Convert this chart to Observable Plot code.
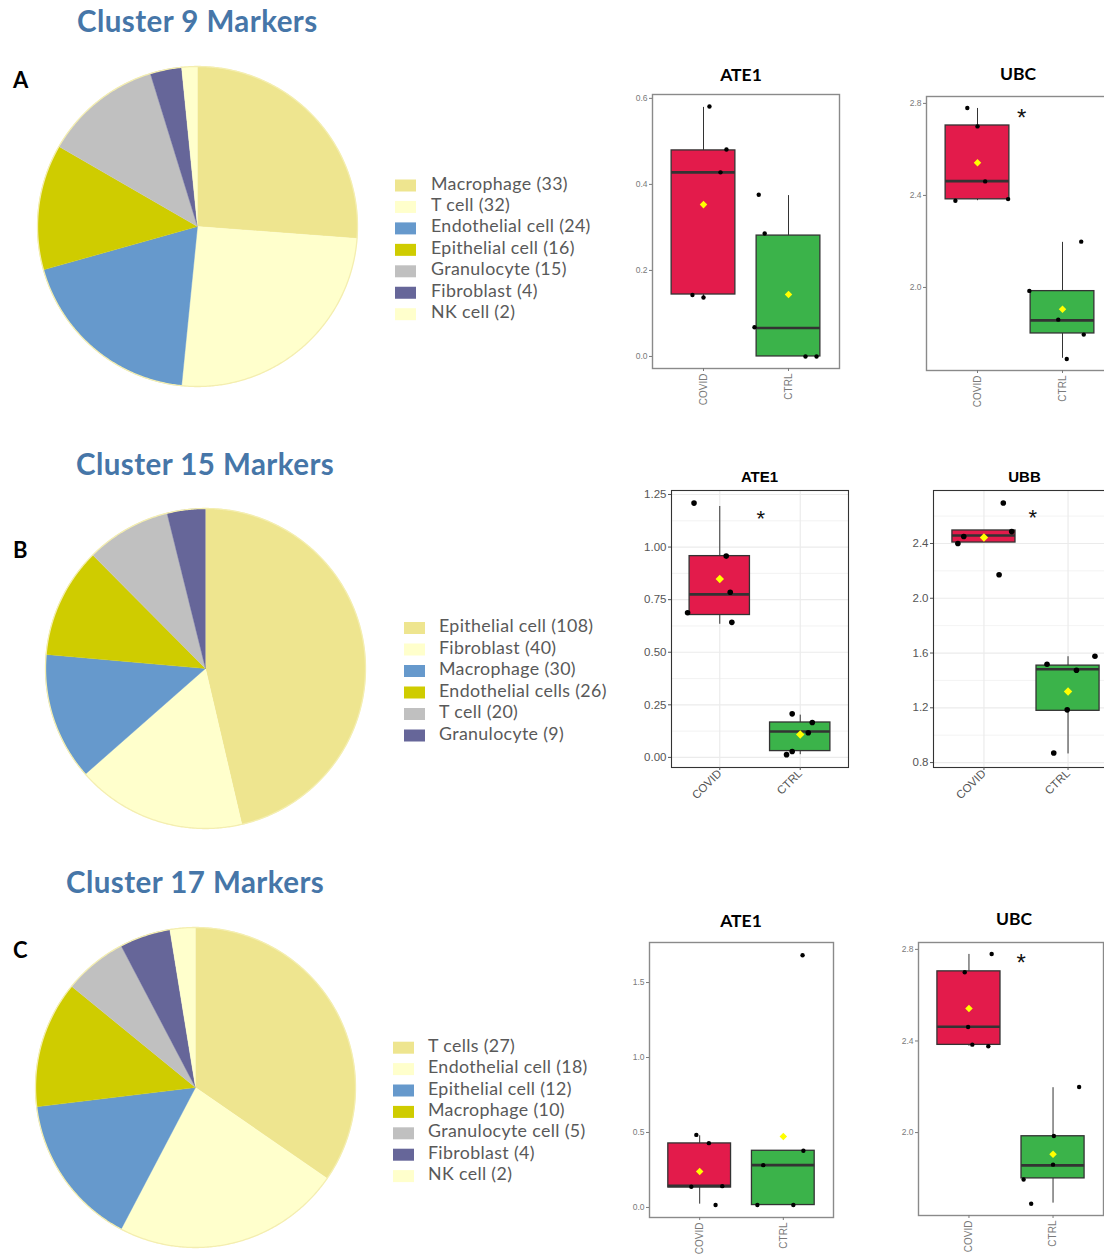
<!DOCTYPE html>
<html><head><meta charset="utf-8">
<script src="https://cdn.jsdelivr.net/npm/d3@7"></script>
<script src="https://cdn.jsdelivr.net/npm/@observablehq/plot@0.6"></script>
<style>
html,body{margin:0;padding:0;background:#fff;}
body{width:1104px;height:1256px;overflow:hidden;position:relative;}
#root{position:absolute;left:0;top:0;width:1104px;height:1256px;}
</style></head>
<body><div id="root"></div>
<script>
// ---------------- DATA ----------------
const clusterTitles = ["Cluster 9 Markers", "Cluster 15 Markers", "Cluster 17 Markers"];
const panelLetters = ["A", "B", "C"];

const pie9Names = ["Macrophage", "T cell", "Endothelial cell", "Epithelial cell", "Granulocyte", "Fibroblast", "NK cell"];
const pie9Counts = [33, 32, 24, 16, 15, 4, 2];
const pie15Names = ["Epithelial cell", "Fibroblast", "Macrophage", "Endothelial cells", "T cell", "Granulocyte"];
const pie15Counts = [108, 40, 30, 26, 20, 9];
const pie17Names = ["T cells", "Endothelial cell", "Epithelial cell", "Macrophage", "Granulocyte cell", "Fibroblast", "NK cell"];
const pie17Counts = [27, 18, 12, 10, 5, 4, 2];
const sliceColors = ["#EEE58F", "#FFFFCC", "#6699CC", "#CFCC00", "#C0C0C0", "#666699", "#FFFFCC"];

const groups = ["COVID", "CTRL"];
const boxFills = ["#E31B4B", "#3BB34A"];

// Cluster 9 - ATE1
const ate9Covid = [0.581, 0.481, 0.428, 0.143, 0.137];
const ate9Ctrl = [0.376, 0.286, 0.068, 0.0, 0.0];
const ate9CovidJit = [0.07, 0.27, 0.2, -0.13, 0.0];
const ate9CtrlJit = [-0.35, -0.28, -0.4, 0.2, 0.33];
const ate9CovidBox = [0.137, 0.144, 0.428, 0.479, 0.579]; // lower, q1, median, q3, upper
const ate9CtrlBox = [0.0, 0.0, 0.066, 0.281, 0.374];
const ate9Means = [0.353, 0.144];

// UBC (clusters 9 and 17)
const ubcCovid = [2.78, 2.70, 2.461, 2.377, 2.384];
const ubcCtrl = [2.199, 1.985, 1.86, 1.795, 1.689];
const ubcCovidBox = [2.377, 2.383, 2.462, 2.704, 2.778];
const ubcCtrlBox = [1.692, 1.80, 1.857, 1.984, 2.196];
const ubcMeans = [2.542, 1.905];
const ubc9CovidJit = [-0.12, 0.0, 0.09, -0.26, 0.36];
const ubc9CtrlJit = [0.22, -0.39, -0.05, 0.25, 0.05];
const ubc17CovidJit = [0.27, -0.05, -0.01, 0.23, 0.04];
const ubc17CtrlJit = [0.31, 0.01, 0.0, -0.35, -0.26];
const ubc9Sig = [1.52, 2.76];
const ubc17Sig = [1.62, 2.765];

// Cluster 15 - ATE1
const ate15Covid = [1.209, 0.957, 0.785, 0.688, 0.642];
const ate15Ctrl = [0.207, 0.166, 0.117, 0.028, 0.013];
const ate15CovidJit = [-0.32, 0.08, 0.13, -0.4, 0.15];
const ate15CtrlJit = [-0.1, 0.15, 0.1, -0.1, -0.17];
const ate15CovidBox = [0.633, 0.677, 0.775, 0.957, 1.193];
const ate15CtrlBox = [0.013, 0.030, 0.123, 0.166, 0.201];
const ate15Means = [0.848, 0.109];
const ate15Sig = [1.51, 1.164];

// Cluster 15 - UBB
const ubbCovid = [2.696, 2.487, 2.451, 2.40, 2.172];
const ubbCtrl = [1.576, 1.518, 1.474, 1.185, 0.870];
const ubbCovidJit = [0.23, 0.33, -0.24, -0.31, 0.18];
const ubbCtrlJit = [0.32, -0.25, 0.1, -0.01, -0.17];
const ubbCovidBox = [2.407, 2.407, 2.458, 2.495, 2.495];
const ubbCtrlBox = [0.863, 1.178, 1.481, 1.508, 1.573];
const ubbMeans = [2.444, 1.319];
const ubbSig = [1.58, 2.63];

// Cluster 17 - ATE1
const ate17Covid = [0.484, 0.429, 0.142, 0.138, 0.016];
const ate17Ctrl = [1.682, 0.378, 0.282, 0.016, 0.016];
const ate17CovidJit = [-0.04, 0.11, 0.27, -0.1, 0.19];
const ate17CtrlJit = [0.23, 0.24, -0.24, -0.31, 0.12];
const ate17CovidBox = [0.022, 0.133, 0.144, 0.427, 0.478];
const ate17CtrlBox = [0.016, 0.016, 0.282, 0.378, 0.378];
const ate17Means = [0.24, 0.473];

// Tick values
const ate9Ticks = [0, 0.2, 0.4, 0.6];
const ubcTicks = [2.0, 2.4, 2.8];
const ate15Ticks = [0, 0.25, 0.5, 0.75, 1.0, 1.25];
const ate15Minor = [0.125, 0.375, 0.625, 0.875, 1.125];
const ubbTicks = [0.8, 1.2, 1.6, 2.0, 2.4];
const ubbMinor = [1.0, 1.4, 1.8, 2.2, 2.6];
const ate17Ticks = [0, 0.5, 1.0, 1.5];

// ---------------- HELPERS ----------------
const W = 1104, H = 1256;
const root = document.getElementById("root");
function place(node, left, top, w) {
  const d = document.createElement("div");
  d.style.cssText = `position:absolute;left:${left}px;top:${top}px;width:${w}px;`;
  d.appendChild(node);
  root.appendChild(d);
}

function pie(counts, cx, cy, r) {
  const total = d3.sum(counts);
  let acc = 0;
  const pts = [];
  counts.forEach((c, i) => {
    const a0 = acc / total * 2 * Math.PI, a1 = (acc + c) / total * 2 * Math.PI;
    acc += c;
    const n = Math.max(2, Math.ceil((a1 - a0) / (Math.PI / 360)));
    pts.push({slice: i, x: 0, y: 0});
    for (let k = 0; k <= n; k++) {
      const a = a0 + (a1 - a0) * k / n;
      pts.push({slice: i, x: Math.sin(a), y: Math.cos(a)});
    }
  });
  const ring = d3.range(721).map(k => ({x: Math.sin(k / 720 * 2 * Math.PI), y: Math.cos(k / 720 * 2 * Math.PI)}));
  const pad = 3;
  const size = 2 * (r + pad);
  const dom = [-(r + pad) / r, (r + pad) / r];
  const p = Plot.plot({
    width: size, height: size, margin: 0,
    x: {domain: dom, axis: null}, y: {domain: dom, axis: null},
    color: {type: "identity"},
    style: {background: "transparent", overflow: "visible"},
    marks: [
      Plot.line(pts, {x: "x", y: "y", z: "slice", fill: d => sliceColors[d.slice], stroke: d => sliceColors[d.slice], strokeWidth: 0.4}),
      Plot.line(ring, {x: "x", y: "y", stroke: "#F4EEB0", strokeWidth: 1.3})
    ]
  });
  place(p, cx - size / 2, cy - size / 2, size);
}

function boxPanel(c) {
  const mL = 40, mR = 4, mT = 4, mB = 60;
  const plain = c.style === "plain";
  const gd = [0, 1].map(i => ({
    x: i + 1, lo: c.box[i][0], q1: c.box[i][1], med: c.box[i][2], q3: c.box[i][3], hi: c.box[i][4],
    mean: c.means[i], fill: boxFills[i]
  }));
  const pts = [0, 1].flatMap(i => c.vals[i].map((v, k) => ({x: i + 1 + c.jit[i][k], y: v})));
  const marks = [];
  if (!plain) {
    marks.push(
      Plot.gridY(c.minor, {stroke: "#EBEBEB", strokeOpacity: 1, strokeWidth: 0.6}),
      Plot.gridY(c.ticks, {stroke: "#EBEBEB", strokeOpacity: 1, strokeWidth: 1.2}),
      Plot.gridX([1, 2], {stroke: "#EBEBEB", strokeOpacity: 1, strokeWidth: 1.2})
    );
  }
  const ink = "#333";
  marks.push(
    Plot.ruleX(gd, {x: "x", y1: "q3", y2: "hi", stroke: ink, strokeWidth: 1}),
    Plot.ruleX(gd, {x: "x", y1: "lo", y2: "q1", stroke: ink, strokeWidth: 1}),
    Plot.rect(gd, {x1: d => d.x - 0.375, x2: d => d.x + 0.375, y1: "q1", y2: "q3", fill: "fill", stroke: ink, strokeWidth: 1.3}),
    Plot.ruleY(gd, {y: "med", x1: d => d.x - 0.375, x2: d => d.x + 0.375, stroke: ink, strokeWidth: 2.6}),
    Plot.dot(pts, {x: "x", y: "y", r: plain ? 2.2 : 2.8, fill: "#000", stroke: "none"}),
    Plot.dot(gd, {x: "x", y: "mean", symbol: "diamond2", r: plain ? 3.4 : 3.8, fill: "#FFFF00", stroke: "none"})
  );
  if (c.sig) {
    marks.push(Plot.text([c.sig], {x: d => d[0], y: d => d[1], text: () => "*", fontSize: plain ? 24 : 22, dy: 6, fill: "#111", fontFamily: "'Liberation Sans', Arial, sans-serif"}));
  }
  marks.push(
    Plot.frame({stroke: plain ? "#8a8a8a" : "#333", strokeWidth: plain ? 1.4 : 1.1}),
    Plot.axisY(c.ticks, {tickFormat: c.fmt, tickSize: 3, tickPadding: 2, fontSize: plain ? 8.5 : 11.5,
      color: plain ? "#7a7a7a" : "#555", label: null}),
    Plot.axisX([1, 2], {tickFormat: d => groups[d - 1], tickSize: 3, tickPadding: plain ? 2 : 1,
      tickRotate: plain ? -90 : -45, fontSize: plain ? 10 : 11.5, color: plain ? "#7a7a7a" : "#555", label: null})
  );
  const width = mL + c.w + mR, height = mT + c.h + mB;
  const p = Plot.plot({
    width, height, marginLeft: mL, marginRight: mR, marginTop: mT, marginBottom: mB,
    x: {domain: [0.4, 2.6], label: null},
    y: {domain: c.ydom, label: null},
    color: {type: "identity"},
    style: {fontFamily: "'Liberation Sans', Arial, sans-serif", background: "transparent", overflow: "visible"},
    marks
  });
  place(p, c.left - mL, c.top - mT, width);
}

// ---------------- PIES ----------------
pie(pie9Counts, 197, 226, 160);
pie(pie15Counts, 205, 668, 160);
pie(pie17Counts, 195, 1087, 160);

// ---------------- BOX PANELS ----------------
const f1 = d3.format(".1f"), f2 = d3.format(".2f");
boxPanel({left: 652, top: 94, w: 187, h: 274, ydom: [-0.028, 0.609], ticks: ate9Ticks, fmt: f1, style: "plain",
  vals: [ate9Covid, ate9Ctrl], jit: [ate9CovidJit, ate9CtrlJit], box: [ate9CovidBox, ate9CtrlBox], means: ate9Means});
boxPanel({left: 926, top: 96, w: 187, h: 274, ydom: [1.639, 2.83], ticks: ubcTicks, fmt: f1, style: "plain",
  vals: [ubcCovid, ubcCtrl], jit: [ubc9CovidJit, ubc9CtrlJit], box: [ubcCovidBox, ubcCtrlBox], means: ubcMeans, sig: ubc9Sig});
boxPanel({left: 671, top: 490, w: 177, h: 277, ydom: [-0.048, 1.269], ticks: ate15Ticks, minor: ate15Minor, fmt: f2, style: "grid",
  vals: [ate15Covid, ate15Ctrl], jit: [ate15CovidJit, ate15CtrlJit], box: [ate15CovidBox, ate15CtrlBox], means: ate15Means, sig: ate15Sig});
boxPanel({left: 933, top: 490, w: 185, h: 277, ydom: [0.764, 2.787], ticks: ubbTicks, minor: ubbMinor, fmt: f1, style: "grid",
  vals: [ubbCovid, ubbCtrl], jit: [ubbCovidJit, ubbCtrlJit], box: [ubbCovidBox, ubbCtrlBox], means: ubbMeans, sig: ubbSig});
boxPanel({left: 649, top: 942, w: 184, h: 275, ydom: [-0.067, 1.767], ticks: ate17Ticks, fmt: f1, style: "plain",
  vals: [ate17Covid, ate17Ctrl], jit: [ate17CovidJit, ate17CtrlJit], box: [ate17CovidBox, ate17CtrlBox], means: ate17Means});
boxPanel({left: 918, top: 942, w: 185, h: 273, ydom: [1.638, 2.83], ticks: ubcTicks, fmt: f1, style: "plain",
  vals: [ubcCovid, ubcCtrl], jit: [ubc17CovidJit, ubc17CtrlJit], box: [ubcCovidBox, ubcCtrlBox], means: ubcMeans, sig: ubc17Sig});

// ---------------- TEXT OVERLAY (titles, letters, legends) ----------------
const svg = d3.create("svg").attr("width", W).attr("height", H)
  .style("position", "absolute").style("left", "0px").style("top", "0px").style("pointer-events", "none");

const titlePos = [[77, 32], [76, 475], [66, 893]];
clusterTitles.forEach((t, i) => {
  svg.append("text").attr("x", titlePos[i][0]).attr("y", titlePos[i][1]).text(t)
    .attr("font-family", "Lato, 'Open Sans', sans-serif").attr("font-weight", "bold").attr("font-size", 29.5)
    .attr("letter-spacing", 0.45).attr("fill", "#4676A8");
});
const letterPos = [[13, 88], [13, 558], [13, 958]];
panelLetters.forEach((t, i) => {
  svg.append("text").attr("x", letterPos[i][0]).attr("y", letterPos[i][1]).text(t)
    .attr("font-family", "Lato, sans-serif").attr("font-weight", "bold").attr("font-size", 22).attr("fill", "#000");
});

function legend(names, counts, swX, txX, firstBase, step) {
  names.forEach((n, i) => {
    const base = firstBase + i * step;
    svg.append("rect").attr("x", swX).attr("y", base - 10).attr("width", 21).attr("height", 12)
      .attr("fill", sliceColors[i]);
    svg.append("text").attr("x", txX).attr("y", base).text(`${n} (${counts[i]})`)
      .attr("font-family", "Lato, sans-serif").attr("font-size", 17.8).attr("letter-spacing", 0.35).attr("fill", "#595959");
  });
}
legend(pie9Names, pie9Counts, 395, 431, 189.5, 21.45);
legend(pie15Names, pie15Counts, 404, 439, 632, 21.5);
legend(pie17Names, pie17Counts, 393, 428, 1051.7, 21.4);

const geneTitles = [
  {t: "ATE1", x: 741, y: 81, f: "Lato, sans-serif", s: 17.5},
  {t: "UBC", x: 1018, y: 80, f: "Lato, sans-serif", s: 17.5},
  {t: "ATE1", x: 759.5, y: 482, f: "'Liberation Sans', Arial, sans-serif", s: 15},
  {t: "UBB", x: 1024.5, y: 482, f: "'Liberation Sans', Arial, sans-serif", s: 15},
  {t: "ATE1", x: 741, y: 927, f: "Lato, sans-serif", s: 17.5},
  {t: "UBC", x: 1014, y: 925, f: "Lato, sans-serif", s: 17.5}
];
geneTitles.forEach(g => {
  svg.append("text").attr("x", g.x).attr("y", g.y).text(g.t).attr("text-anchor", "middle")
    .attr("font-family", g.f).attr("font-weight", "bold").attr("font-size", g.s).attr("fill", "#000");
});
root.appendChild(svg.node());
</script>
</body></html>
